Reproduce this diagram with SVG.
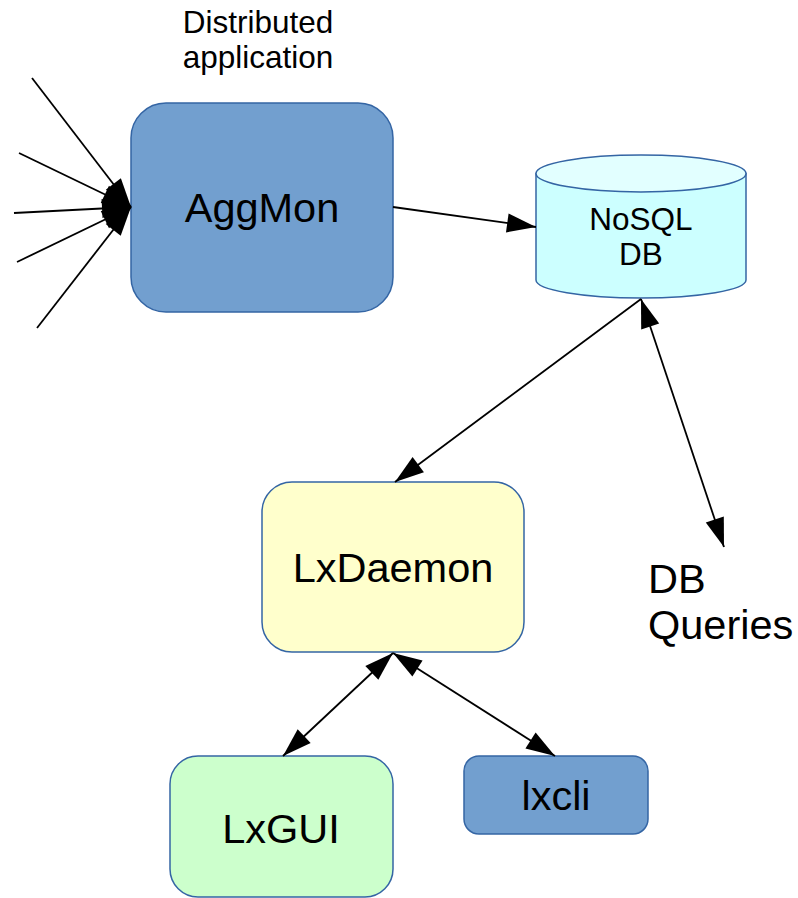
<svg xmlns="http://www.w3.org/2000/svg" width="798" height="898" viewBox="0 0 798 898">
  <style>
    text { font-family: "Liberation Sans", Arial, sans-serif; fill: #000; }
    .lbl { font-size: 41.5px; text-anchor: middle; }
    .node { stroke: #3465a4; stroke-width: 1.5; }
    .blue { fill: #729fcf; }
    .yellow { fill: #ffffcc; }
    .green { fill: #ccffcc; }
    .cyan { fill: #ccffff; }
    .cyan-top { fill: #e2ffff; }
    .edge { stroke: #000; stroke-width: 1.8; fill: none; }
    .one { marker-end: url(#head); }
    .both { marker-start: url(#head); marker-end: url(#head); }
  </style>
  <defs>
    <marker id="head" markerUnits="userSpaceOnUse" markerWidth="30" markerHeight="20" refX="29" refY="9.5" orient="auto-start-reverse" overflow="visible">
      <path d="M0,0 L29,9.5 L0,19 z" fill="#000"/>
    </marker>
  </defs>

  <!-- caption above the aggregator -->
  <g id="caption">
    <text x="258" y="33" font-size="31.5" text-anchor="middle">Distributed</text>
    <text x="258" y="68" font-size="31.5" text-anchor="middle">application</text>
  </g>

  <g id="aggmon">
    <rect class="node blue" x="131" y="103" width="262" height="209" rx="35" ry="35"/>
    <text class="lbl" x="262" y="222">AggMon</text>
  </g>

  <g id="nosql">
    <path class="node cyan" d="M536,173.5 L536,280 A105,18 0 0 0 746,280 L746,173.5 Z"/>
    <ellipse class="node cyan-top" cx="641" cy="173.5" rx="105" ry="18.5"/>
    <text x="641" y="230" font-size="31.5" text-anchor="middle">NoSQL</text>
    <text x="641" y="265" font-size="31.5" text-anchor="middle">DB</text>
  </g>

  <g id="lxdaemon">
    <rect class="node yellow" x="262" y="482" width="262" height="170" rx="30" ry="30"/>
    <text class="lbl" x="393" y="582">LxDaemon</text>
  </g>

  <g id="lxgui">
    <rect class="node green" x="170" y="756" width="223" height="141" rx="28" ry="28"/>
    <text class="lbl" x="281" y="843">LxGUI</text>
  </g>

  <g id="lxcli">
    <rect class="node blue" x="464" y="756" width="184" height="78" rx="15" ry="15"/>
    <text class="lbl" x="556" y="810">lxcli</text>
  </g>

  <g id="dbqueries">
    <text x="648" y="593" font-size="41.5">DB</text>
    <text x="648" y="639" font-size="41.5">Queries</text>
  </g>

  <g id="connectors">
    <!-- incoming feeds from the distributed application -->
    <line class="edge one" x1="32" y1="78" x2="131" y2="207"/>
    <line class="edge one" x1="19" y1="153" x2="131" y2="207"/>
    <line class="edge one" x1="14" y1="213" x2="131" y2="207"/>
    <line class="edge one" x1="17" y1="262" x2="131" y2="207"/>
    <line class="edge one" x1="37" y1="328" x2="131" y2="207"/>
    <!-- AggMon writes to the store -->
    <line class="edge one" x1="393" y1="207" x2="536" y2="227"/>
    <!-- store feeds the daemon -->
    <line class="edge one" x1="641" y1="299" x2="395" y2="482"/>
    <!-- ad-hoc queries -->
    <line class="edge both" x1="641" y1="299" x2="724" y2="547"/>
    <!-- daemon clients -->
    <line class="edge both" x1="393" y1="653" x2="283" y2="756"/>
    <line class="edge both" x1="393" y1="653" x2="555" y2="756"/>
  </g>
</svg>
